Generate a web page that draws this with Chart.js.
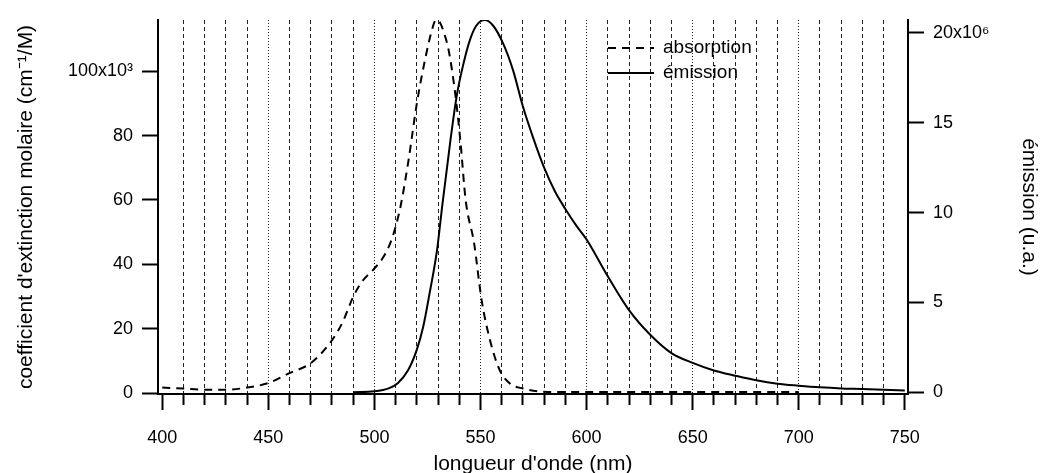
<!DOCTYPE html>
<html>
<head>
<meta charset="utf-8">
<script src="https://cdn.jsdelivr.net/npm/chart.js@4/dist/chart.umd.min.js"></script>
<style>
  html, body { margin: 0; padding: 0; background: #fff; }
  canvas { display: block; }
</style>
</head>
<body>
<canvas id="spectra" width="1045" height="473"></canvas>
<script>
/* absorption / emission spectra, two y axes */

// absorption: wavelength (nm) and molar extinction (x10^3 cm-1/M)
const absWl  = [400, 410, 420, 430, 440, 450, 460, 470, 480, 485, 490, 494, 500, 504, 508, 512, 516, 520, 524, 527, 529, 531, 533, 535, 538, 540.5, 543, 547, 550.5, 554.5, 559, 564, 570, 580, 590, 600, 620, 640, 660, 680, 700];
const absVal = [1.7, 1.4, 1.05, 1.0, 1.7, 3.1, 6.2, 9.3, 16.4, 22, 29.9, 34.5, 38.7, 42, 47.5, 57, 72, 90, 104, 112.5, 115.9, 115, 111.5, 106.5, 93.5, 78.5, 60, 46.5, 29, 16.4, 7.2, 2.9, 1.4, 0.4, 0.3, 0.3, 0.3, 0.3, 0.3, 0.3, 0.3];

// emission: wavelength (nm) and intensity (x10^6 a.u.)
const emWl  = [490, 500, 507, 511, 516, 520, 523, 526, 529.5, 532, 535.7, 538.8, 542, 545, 548, 552, 556, 560.7, 565.4, 570, 575, 580, 585, 590, 595, 600, 610, 620, 630, 640, 650, 660, 670, 680, 690, 700, 710, 720, 730, 740, 750];
const emVal = [0.0, 0.05, 0.23, 0.5, 1.25, 2.37, 3.64, 5.5, 7.9, 10.4, 13.9, 16.5, 18.3, 19.6, 20.4, 20.72, 20.4, 19.4, 17.9, 15.9, 14.1, 12.5, 11.2, 10.2, 9.3, 8.5, 6.45, 4.57, 3.2, 2.18, 1.63, 1.21, 0.92, 0.66, 0.47, 0.36, 0.27, 0.21, 0.18, 0.14, 0.1];

const seriesNames = ['absorption', 'émission'];
const xRange  = [398, 751.5];
const absRange = [-0.3, 115.9];
const emRange  = [-0.1, 20.72];

const FAMILY = "'Liberation Sans', Arial, Helvetica, sans-serif";
Chart.defaults.font = { family: FAMILY, size: 18 };
Chart.defaults.color = '#000';
const titleFont = { family: FAMILY, size: 21, lineHeight: 1 };

const toXY = (xs, ys) => xs.map((x, i) => ({ x: x, y: ys[i] }));
const isMajor = v => Math.round(v) % 50 === 0;

// legend drawn inside the plot, top-right like the original
const insideLegend = {
  id: 'insideLegend',
  afterDraw(chart) {
    const c = chart.ctx;
    const x0 = 608, x1 = 654, tx = 663;
    const rows = [48, 73];
    chart.data.datasets.forEach((ds, i) => {
      c.save();
      c.strokeStyle = ds.borderColor;
      c.lineWidth = ds.borderWidth;
      c.setLineDash(ds.borderDash || []);
      c.beginPath();
      c.moveTo(x0, rows[i]);
      c.lineTo(x1, rows[i]);
      c.stroke();
      c.setLineDash([]);
      c.fillStyle = '#000';
      c.font = '19px ' + FAMILY;
      c.textBaseline = 'middle';
      c.fillText(ds.label, tx, rows[i]);
      c.restore();
    });
  }
};

new Chart(document.getElementById('spectra'), {
  type: 'line',
  data: {
    datasets: [
      {
        label: seriesNames[0],
        data: toXY(absWl, absVal),
        xAxisID: 'x',
        yAxisID: 'y',
        borderColor: '#000',
        borderWidth: 2,
        borderDash: [8, 6],
        pointRadius: 0,
        cubicInterpolationMode: 'monotone',
        fill: false
      },
      {
        label: seriesNames[1],
        data: toXY(emWl, emVal),
        xAxisID: 'x',
        yAxisID: 'y2',
        borderColor: '#000',
        borderWidth: 2,
        pointRadius: 0,
        cubicInterpolationMode: 'monotone',
        fill: false
      }
    ]
  },
  options: {
    responsive: false,
    animation: false,
    devicePixelRatio: 1,
    layout: { padding: { top: 20, left: 0, right: 0, bottom: 0 } },
    plugins: {
      legend: { display: false },
      tooltip: { enabled: false }
    },
    scales: {
      x: {
        type: 'linear',
        position: 'bottom',
        min: xRange[0],
        max: xRange[1],
        afterFit: s => { s.height = 79; },
        ticks: {
          stepSize: 10,
          includeBounds: false,
          autoSkip: false,
          maxTicksLimit: 100,
          maxRotation: 0,
          padding: 17,
          callback: v => isMajor(v) ? String(v) : ''
        },
        grid: {
          lineWidth: 1,
          color: c => (isMajor(c.tick.value)) ? 'rgba(0,0,0,0)' : '#222',
          tickLength: 16,
          tickWidth: 2,
          tickColor: '#000',
          tickBorderDash: c => isMajor(c.tick.value) ? [] : [10, 30]
        },
        border: { display: true, color: '#000', width: 2, dash: [4, 3] },
        title: { display: true, text: "longueur d'onde (nm)", font: titleFont, padding: { top: 0, bottom: -2 } }
      },
      xm: {
        type: 'linear',
        position: 'bottom',
        min: xRange[0],
        max: xRange[1],
        afterFit: s => { s.height = 0; },
        ticks: { display: false, stepSize: 50, includeBounds: false, maxTicksLimit: 100 },
        grid: {
          drawTicks: false,
          lineWidth: 1,
          color: c => (c.tick.value === 400 || c.tick.value === 750) ? 'rgba(0,0,0,0)' : '#222'
        },
        border: { display: false, dash: [1, 2] }
      },
      y: {
        type: 'linear',
        position: 'left',
        min: absRange[0],
        max: absRange[1],
        afterFit: s => { s.width = 158; },
        ticks: {
          stepSize: 20,
          includeBounds: false,
          padding: 9,
          callback: v => v === 100 ? '100x10³' : String(v)
        },
        grid: { drawOnChartArea: false, tickLength: 16, tickWidth: 2, color: '#000' },
        border: { display: true, color: '#000', width: 2 },
        title: { display: true, text: "coefficient d'extinction molaire (cm⁻¹/M)", font: titleFont, padding: { top: 16, bottom: 0 } }
      },
      y2: {
        type: 'linear',
        position: 'right',
        min: emRange[0],
        max: emRange[1],
        afterFit: s => { s.width = 137; },
        ticks: {
          stepSize: 5,
          includeBounds: false,
          padding: 9,
          callback: v => v === 20 ? '20x10⁶' : String(v)
        },
        grid: { drawOnChartArea: false, tickLength: 16, tickWidth: 2, color: '#000' },
        border: { display: true, color: '#000', width: 2 },
        title: { display: true, text: 'émission (u.a.)', font: titleFont, padding: { top: 6, bottom: 0 } }
      }
    }
  },
  plugins: [insideLegend]
});
</script>
</body>
</html>
